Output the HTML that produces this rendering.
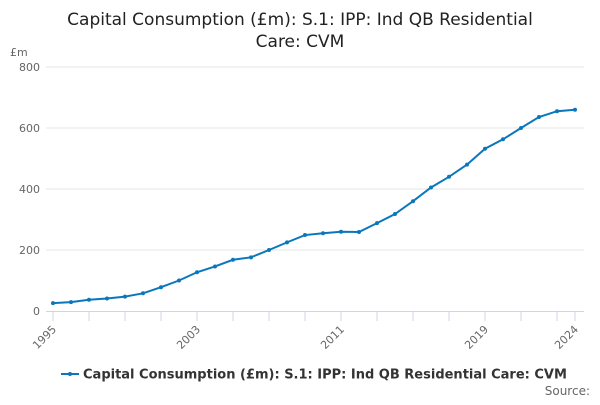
<!DOCTYPE html>
<html><head><meta charset="utf-8"><style>
body{margin:0;background:#fff;font-family:"Liberation Sans","DejaVu Sans",sans-serif}
svg text{font-family:"DejaVu Sans","Liberation Sans",sans-serif}
</style></head><body>
<svg width="600" height="400" xmlns="http://www.w3.org/2000/svg">
<text x="300" y="25" text-anchor="middle" font-size="17" fill="#222">Capital Consumption (£m): S.1: IPP: Ind QB Residential</text>
<text x="300" y="47" text-anchor="middle" font-size="17" fill="#222">Care: CVM</text>
<text x="10" y="56" font-size="11" fill="#666">£m</text>
<g id="grid"></g><g id="xaxis"></g><g id="series"></g>
<g>
<line x1="61" y1="374" x2="79" y2="374" stroke="#0a77bd" stroke-width="2"/>
<circle cx="70" cy="374" r="2" fill="#0a77bd"/>
<text x="83" y="378.5" font-size="13" font-weight="bold" fill="#333">Capital Consumption (£m): S.1: IPP: Ind QB Residential Care: CVM</text>
</g>
<text x="590" y="395" text-anchor="end" font-size="12" fill="#666">Source:</text>
</svg>
<script>
const years=[1995,1996,1997,1998,1999,2000,2001,2002,2003,2004,2005,2006,2007,2008,2009,2010,2011,2012,2013,2014,2015,2016,2017,2018,2019,2020,2021,2022,2023,2024];
const values=[26,29,37,41,47,58,78,100,127,146,168,176,200,225,249,255,260,259,288,318,360,405,440,480,532,563,600,636,655,660];
const yTicks=[0,200,400,600,800];
const xLabels=[1995,2003,2011,2019,2024];
const NS="http://www.w3.org/2000/svg";
const x=v=>53+(v-1995)*(575-53)/29;
const y=v=>311-v*(311-67)/800;
function mk(t,a,p){const e=document.createElementNS(NS,t);for(const k in a)e.setAttribute(k,a[k]);p.appendChild(e);return e;}
const g=document.getElementById('grid'),xa=document.getElementById('xaxis'),s=document.getElementById('series');
yTicks.forEach(v=>{
 if(v>0){const l=mk('line',{x1:46,x2:584,y1:y(v),y2:y(v),stroke:'#e6e6e6'},g);
 
 }
 const t=mk('text',{x:40,y:y(v)+4,'text-anchor':'end','font-size':11,fill:'#666'},g);t.textContent=v;
 
 
});
const ax=mk('line',{x1:46,x2:584,y1:311.5,y2:311.5,stroke:'#ccd6eb'},xa);


years.forEach((yr,i)=>{if((yr-1995)%2===0||yr===2024){const tk=mk('line',{x1:x(yr),x2:x(yr),y1:311,y2:321,stroke:'#ccd6eb'},xa);
 
 }});
xLabels.forEach(yr=>{const t=mk('text',{x:x(yr)+4,y:330,'text-anchor':'end','font-size':11,fill:'#666',transform:`rotate(-45 ${x(yr)+4} 330)`},xa);t.textContent=yr;
 
 });
const p=mk('polyline',{points:years.map((yr,i)=>x(yr)+','+y(values[i])).join(' '),fill:'none',stroke:'#0a77bd','stroke-width':2},s);


years.forEach((yr,i)=>{const c=mk('circle',{cx:x(yr),cy:y(values[i]),r:2,fill:'#0a77bd'},s);
 
 });
</script>
</body></html>
